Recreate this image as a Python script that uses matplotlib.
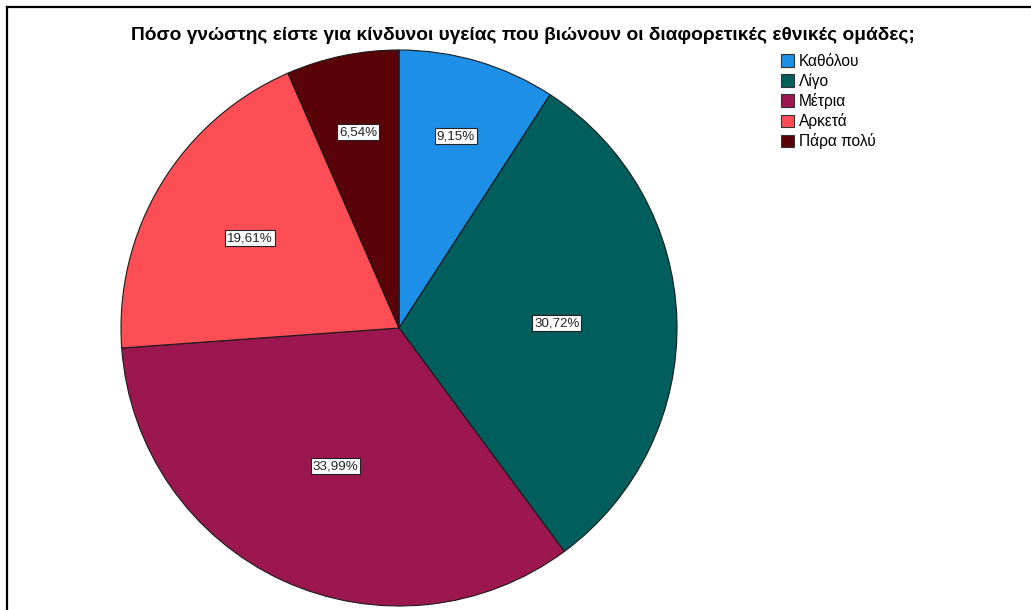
import matplotlib
matplotlib.use("Agg")
import matplotlib.pyplot as plt
from matplotlib.lines import Line2D
from matplotlib.patches import Patch
import numpy as np

plt.rcParams["font.family"] = ["Liberation Sans", "DejaVu Sans"]

TITLE = "Πόσο γνώστης είστε για κίνδυνοι υγείας που βιώνουν οι διαφορετικές εθνικές ομάδες;"
categories = ["Καθόλου", "Λίγο", "Μέτρια", "Αρκετά", "Πάρα πολύ"]
percents = [9.15, 30.72, 33.99, 19.61, 6.54]
colors = ["#1E8FE6", "#005E5C", "#9C1750", "#FD4E56", "#590309"]

W, H = 1031, 610
fig = plt.figure(figsize=(W / 100, H / 100), dpi=100)

# pie centre ~ (399, 328) px, radius ~278 px
cx, cy, r = 399, 328, 278
ax = fig.add_axes([(cx - r) / W, (H - cy - r) / H, 2 * r / W, 2 * r / H])
wedges, _ = ax.pie(percents, colors=colors, startangle=90, counterclock=False,
                   radius=1, wedgeprops=dict(edgecolor="#1a1a1a", linewidth=0.8))
ax.set_xlim(-1, 1)
ax.set_ylim(-1, 1)
ax.set_aspect("equal")
ax.axis("off")

# labels near wedge centroid (SPSS style boxed labels)
for w, p in zip(wedges, percents):
    half = np.radians(w.theta2 - w.theta1) / 2
    mid = np.radians((w.theta1 + w.theta2) / 2)
    rl = 2 * np.sin(half) / (3 * half)
    if p < 10:
        rl = 0.72
    ax.text(rl * np.cos(mid), rl * np.sin(mid), f"{p:.2f}%".replace(".", ","),
            ha="center", va="center", fontsize=9.6, color="#222222",
            bbox=dict(boxstyle="square,pad=0.15", fc="white", ec="#222222", lw=0.8))

fig.text(523 / W, 1 - 35 / H, TITLE, ha="center", va="center",
         fontsize=13.8, fontweight="bold")

handles = [Patch(facecolor=c, edgecolor="#333333", lw=0.8) for c in colors]
fig.legend(handles, categories, loc="upper left", bbox_to_anchor=(781 / W, 1 - 54 / H),
           frameon=False, fontsize=11.2, handlelength=0.85, handleheight=0.85,
           handletextpad=0.3, labelspacing=0.27, borderpad=0, borderaxespad=0)

# outer frame (cropped at right/bottom)
fig.add_artist(Line2D([7 / W, 1], [1 - 7 / H, 1 - 7 / H], color="black", lw=1.6))
fig.add_artist(Line2D([7 / W, 7 / W], [0, 1 - 7 / H], color="black", lw=1.6))

fig.savefig("out.png", dpi=100)
